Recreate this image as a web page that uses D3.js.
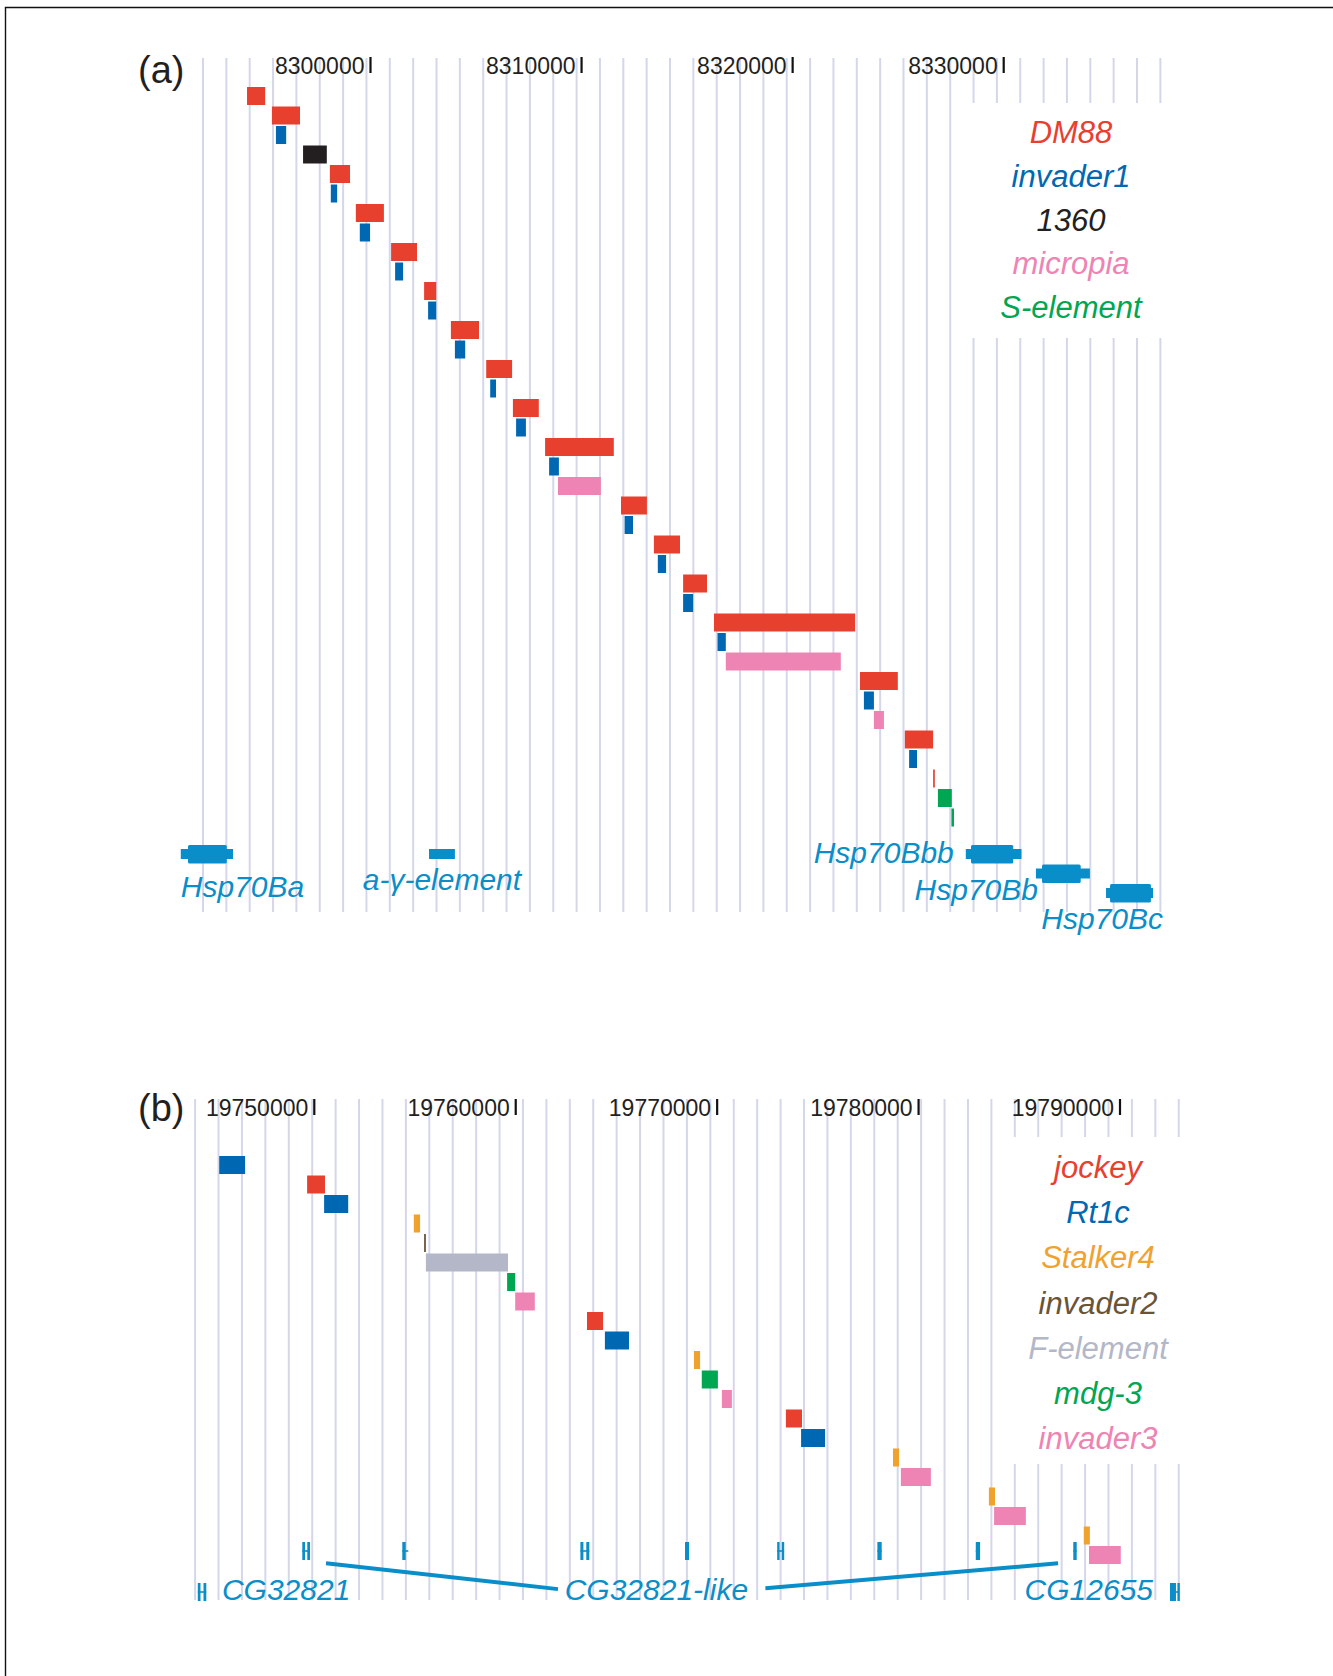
<!DOCTYPE html>
<html>
<head>
<meta charset="utf-8">
<script src="https://d3js.org/d3.v7.min.js"></script>
<style>
  body { margin: 0; background: #fff; }
  text { font-family: "Liberation Sans", Arial, sans-serif; }
</style>
</head>
<body>
<div id="chart"></div>
<script>
// ---------- data : panel (a) ----------
var aTicks = [8300000, 8310000, 8320000, 8330000];
var aTypes = ["DM88", "invader1", "1360", "micropia", "S-element"];
// one hit per row, top to bottom : [type, start, end]
var aHits = [
  ["DM88", 8294150, 8295010],
  ["DM88", 8295330, 8296660],
  ["invader1", 8295520, 8296005],
  ["1360", 8296805, 8297930],
  ["DM88", 8298075, 8299030],
  ["invader1", 8298120, 8298420],
  ["DM88", 8299305, 8300635],
  ["invader1", 8299493, 8299980],
  ["DM88", 8300976, 8302203],
  ["invader1", 8301166, 8301545],
  ["DM88", 8302540, 8303113],
  ["invader1", 8302729, 8303113],
  ["DM88", 8303809, 8305141],
  ["invader1", 8303999, 8304487],
  ["DM88", 8305482, 8306709],
  ["invader1", 8305671, 8305946],
  ["DM88", 8306747, 8307974],
  ["invader1", 8306898, 8307363],
  ["DM88", 8308272, 8311527],
  ["invader1", 8308462, 8308926],
  ["micropia", 8308884, 8310916],
  ["DM88", 8311869, 8313096],
  ["invader1", 8312039, 8312437],
  ["DM88", 8313427, 8314664],
  ["invader1", 8313612, 8314005],
  ["DM88", 8314811, 8315943],
  ["invader1", 8314811, 8315285],
  ["DM88", 8316275, 8322960],
  ["invader1", 8316441, 8316834],
  ["micropia", 8316834, 8322283],
  ["DM88", 8323192, 8324983],
  ["invader1", 8323377, 8323851],
  ["micropia", 8323851, 8324325],
  ["DM88", 8325315, 8326656],
  ["invader1", 8325519, 8325893],
  ["DM88", 8326656, 8326737],
  ["S-element", 8326883, 8327542],
  ["S-element", 8327523, 8327646]
];
// genes : name, row, whole extent, coding part (null = plain element)
var aGenes = [
  ["Hsp70Ba", 0, 8291012, 8293485, 8291353, 8293191],
  ["a-\u03b3-element", 0, 8302772, 8303999, null, null],
  ["Hsp70Bbb", 0, 8328205, 8330844, 8328452, 8330451],
  ["Hsp70Bb", 1, 8331527, 8334085, 8331816, 8333649],
  ["Hsp70Bc", 2, 8334848, 8337075, 8335038, 8336975]
];

// ---------- data : panel (b) ----------
var bTicks = [19750000, 19760000, 19770000, 19780000, 19790000];
var bTypes = ["jockey", "Rt1c", "Stalker4", "invader2", "F-element", "mdg-3", "invader3"];
var bHits = [
  ["Rt1c", 19745279, 19746565],
  ["jockey", 19749643, 19750531],
  ["Rt1c", 19750487, 19751683],
  ["Stalker4", 19754940, 19755252],
  ["invader2", 19755451, 19755540],
  ["F-element", 19755540, 19759616],
  ["mdg-3", 19759572, 19759974],
  ["invader3", 19759974, 19760947],
  ["jockey", 19763538, 19764337],
  ["Rt1c", 19764427, 19765623],
  ["Stalker4", 19768850, 19769153],
  ["mdg-3", 19769237, 19770037],
  ["invader3", 19770235, 19770732],
  ["jockey", 19773413, 19774212],
  ["Rt1c", 19774167, 19775359],
  ["Stalker4", 19778730, 19779032],
  ["invader3", 19779122, 19780611],
  ["Stalker4", 19783491, 19783794],
  ["invader3", 19783749, 19785327],
  ["Stalker4", 19788202, 19788505],
  ["invader3", 19788460, 19790039]
];
// gene models : row, exons, whole span
var bModels = [
  [1, [[19744216, 19744350], [19744499, 19744638]], [19744216, 19744638]],
  [0, [[19749404, 19749538], [19749652, 19749787]], [19749404, 19749787]],
  [0, [[19754369, 19754538]], [19754369, 19754667]],
  [0, [[19763211, 19763360], [19763503, 19763652]], [19763211, 19763652]],
  [0, [[19768404, 19768602]], [19768404, 19768602]],
  [0, [[19772981, 19773095], [19773209, 19773323]], [19772981, 19773323]],
  [0, [[19777955, 19778169]], [19777955, 19778169]],
  [0, [[19782840, 19783053]], [19782840, 19783053]],
  [0, [[19787681, 19787850]], [19787681, 19787850]],
  [1, [[19792481, 19792779], [19792851, 19792943]], [19792481, 19792943]]
];
var bGeneNames = ["CG32821", "CG32821-like", "CG12655"];
var bGeneNamePos = [19745413, 19762431, 19785263];
// bracket lines from CG32821-like label to its copies : [bp, row fraction]
var bLinks = [
  [[19750581, 0.3], [19762099, 0.93]],
  [[19772395, 0.91], [19786926, 0.3]]
];

// ---------- styles ----------
var colA = {"DM88": "#e8402f", "invader1": "#0068b3", "1360": "#231f20",
            "micropia": "#ee84b4", "S-element": "#00a651"};
var colB = {"jockey": "#e8402f", "Rt1c": "#0068b3", "Stalker4": "#f0a22f",
            "invader2": "#6a5436", "F-element": "#b3b7c8", "mdg-3": "#00a651",
            "invader3": "#ee84b4"};
var geneBlue = "#0a8ec9", gridCol = "#d4d7ea";

var svg = d3.select("#chart").append("svg")
  .attr("width", 1333).attr("height", 1676);
svg.append("rect").attr("width", 1333).attr("height", 1676).attr("fill", "#fff");
// frame
svg.append("path").attr("d", "M5.5,1676 V7.5 H1333")
  .attr("fill", "none").attr("stroke", "#111").attr("stroke-width", 1.4);

function panel(o) {
  var g = svg.append("g");
  var x = d3.scaleLinear().domain(o.dom).range(o.rng);
  var row = d3.scaleLinear().domain([0, 1]).range([o.rowTop, o.rowTop + 19.5]);
  var grow = d3.scaleLinear().domain([0, 1]).range([o.geneMid, o.geneMid + o.geneStep]);

  // background grid
  var gx = d3.scaleLinear().domain([0, 1]).range([o.gridStart, o.gridStart + o.gridStep]);
  d3.range(o.gridN).forEach(function(i) {
    var xx = gx(i);
    var segs = xx >= o.gapX ? [[o.gridTop, o.gapTop], [o.gapBot, o.gridBot]] : [[o.gridTop, o.gridBot]];
    segs.forEach(function(s) {
      g.append("line").attr("x1", xx).attr("x2", xx).attr("y1", s[0]).attr("y2", s[1])
        .attr("stroke", gridCol).attr("stroke-width", 2);
    });
  });

  // coordinate ticks
  var t = g.selectAll(".tk").data(o.ticks).enter().append("g")
    .attr("transform", function(d) { return "translate(" + x(d) + ",0)"; });
  t.append("line").attr("y1", o.tickY - 17).attr("y2", o.tickY - 1)
    .attr("stroke", "#111").attr("stroke-width", 2.2);
  t.append("text").attr("x", -6).attr("y", o.tickY).attr("text-anchor", "end")
    .attr("font-size", 23).attr("fill", "#231f20").text(function(d) { return d; });

  g.append("text").attr("x", 138).attr("y", o.labelY).attr("font-size", 38)
    .attr("fill", "#231f20").text(o.label);

  // repeat hits
  g.selectAll(".hit").data(o.hits).enter().append("rect")
    .attr("x", function(d) { return x(d[1]); })
    .attr("width", function(d) { return Math.max(1.6, x(d[2]) - x(d[1])); })
    .attr("y", function(d, i) { return row(i); })
    .attr("height", 18)
    .attr("fill", function(d) { return o.col[d[0]]; });

  // legend
  g.selectAll(".lg").data(o.types).enter().append("text")
    .attr("x", o.legX).attr("y", function(d, i) { return o.legY + o.legStep * i; })
    .attr("text-anchor", "middle").attr("font-size", 31).attr("font-style", "italic")
    .attr("fill", function(d) { return o.col[d]; }).text(function(d) { return d; });

  return {g: g, x: x, grow: grow};
}

// ---------- panel (a) ----------
var A = panel({
  dom: [8300000, 8330000], rng: [370.5, 1003.7], ticks: aTicks, tickY: 74,
  label: "(a)", labelY: 83, rowTop: 87, geneMid: 854, geneStep: 19.5,
  gridStart: 203, gridStep: 23.35, gridN: 42, gridTop: 58, gridBot: 912,
  gapX: 970, gapTop: 103, gapBot: 338,
  hits: aHits, types: aTypes, col: colA, legX: 1071, legY: 143, legStep: 43.75
});
aGenes.forEach(function(d) {
  var cy = A.grow(d[1]);
  A.g.append("rect").attr("x", A.x(d[2])).attr("width", A.x(d[3]) - A.x(d[2]))
    .attr("y", cy - 5).attr("height", 10).attr("fill", geneBlue);
  if (d[4] !== null) {
    A.g.append("rect").attr("x", A.x(d[4])).attr("width", A.x(d[5]) - A.x(d[4]))
      .attr("y", cy - 9).attr("height", 18.5).attr("fill", geneBlue).attr("rx", 1.5);
  }
});
// gene labels : [gene index, anchor, ref x, dx, baseline]
var aLab = [[0, "start", 2, 0, 897], [1, "middle", -1, 0, 890], [2, "end", 2, -12, 863],
            [3, "end", 2, 2, 900], [4, "end", 3, 10, 929]];
aLab.forEach(function(l) {
  var d = aGenes[l[0]];
  var xx = l[2] < 0 ? (A.x(d[2]) + A.x(d[3])) / 2 : A.x(d[l[2]]);
  A.g.append("text").attr("x", xx + l[3]).attr("y", l[4]).attr("text-anchor", l[1])
    .attr("font-size", 30).attr("font-style", "italic").attr("fill", geneBlue).text(d[0]);
});

// ---------- panel (b) ----------
var B = panel({
  dom: [19750000, 19790000], rng: [314.3, 1120], ticks: bTicks, tickY: 1116,
  label: "(b)", labelY: 1121, rowTop: 1156, geneMid: 1551, geneStep: 41,
  gridStart: 195.1, gridStep: 23.42, gridN: 43, gridTop: 1099, gridBot: 1600,
  gapX: 1005, gapTop: 1137, gapBot: 1464,
  hits: bHits, types: bTypes, col: colB, legX: 1098, legY: 1178, legStep: 45.2
});
bModels.forEach(function(m) {
  var cy = B.grow(m[0]);
  B.g.append("line").attr("x1", B.x(m[2][0])).attr("x2", B.x(m[2][1]))
    .attr("y1", cy).attr("y2", cy).attr("stroke", geneBlue).attr("stroke-width", 1.6);
  m[1].forEach(function(e) {
    B.g.append("rect").attr("x", B.x(e[0])).attr("width", Math.max(2.4, B.x(e[1]) - B.x(e[0])))
      .attr("y", cy - 9).attr("height", 18).attr("fill", geneBlue);
  });
});
bLinks.forEach(function(l) {
  B.g.append("line")
    .attr("x1", B.x(l[0][0])).attr("y1", B.grow(l[0][1]))
    .attr("x2", B.x(l[1][0])).attr("y2", B.grow(l[1][1]))
    .attr("stroke", geneBlue).attr("stroke-width", 4);
});
bGeneNames.forEach(function(n, i) {
  B.g.append("text").attr("x", B.x(bGeneNamePos[i])).attr("y", 1600)
    .attr("font-size", 30).attr("font-style", "italic").attr("fill", geneBlue).text(n);
});
</script>
</body>
</html>
